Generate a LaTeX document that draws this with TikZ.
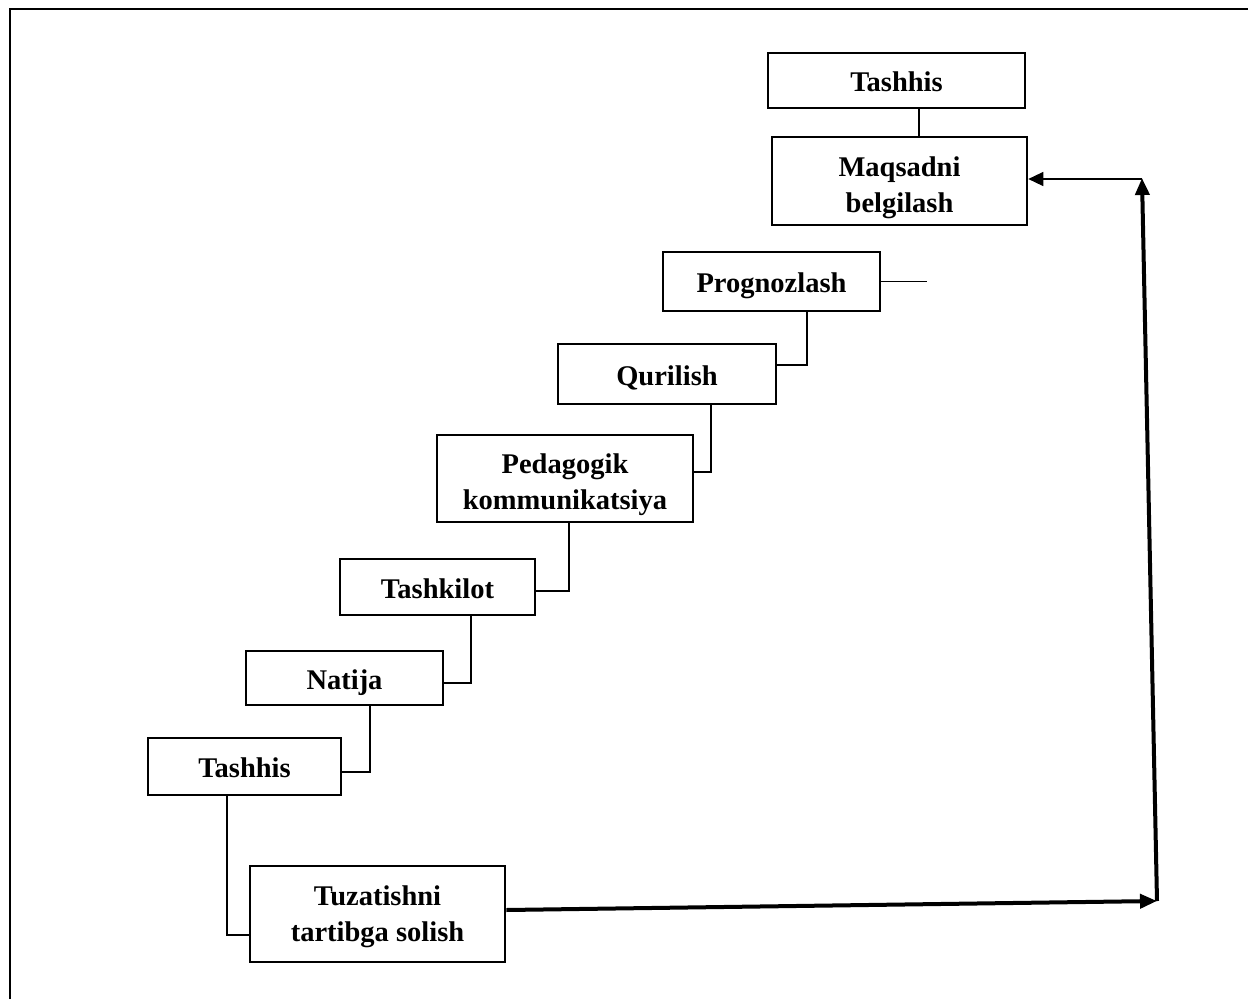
\documentclass[tikz,border=0pt]{standalone}
\usepackage{fontspec}
\setmainfont{Liberation Serif}
\usetikzlibrary{arrows.meta}
\begin{document}
\begin{tikzpicture}[x=1pt,y=-1pt,
  box/.style={draw, line width=2.6pt, rectangle, inner sep=0pt,
    font=\fontsize{28.5}{35.5}\selectfont\bfseries, align=center,
    text height=22pt, text depth=0pt},
  conn/.style={line width=1.3pt},
  big/.style={line width=4pt, -{Triangle[length=17pt,width=14pt]}},
  thinarr/.style={line width=1.3pt, -{Triangle[length=15pt,width=14pt]}}]
\useasboundingbox (0,0) rectangle (1248,999);
\draw[line width=2.2pt] (10,999) -- (10,9) -- (1248,9);

\node[box, minimum width=257, minimum height=55] (tA) at (896.5,80.5) {Tashhis};
\node[box, minimum width=255, minimum height=88, text height=62pt] (maq) at (899.5,181) {Maqsadni\\belgilash};
\node[box, minimum width=217, minimum height=59] (prog) at (771.5,281.5) {Prognozlash};
\node[box, minimum width=218, minimum height=60] (qur) at (667,374) {Qurilish};
\node[box, minimum width=256, minimum height=87, text height=61pt] (ped) at (565,478.5) {Pedagogik\\kommunikatsiya};
\node[box, minimum width=195, minimum height=56] (tashk) at (437.5,587) {Tashkilot};
\node[box, minimum width=197, minimum height=54] (nat) at (344.5,678) {Natija};
\node[box, minimum width=193, minimum height=57] (tashB) at (244.5,766.5) {Tashhis};
\node[box, minimum width=255, minimum height=96, text height=54pt] (tuz) at (377.5,914) {Tuzatishni\\tartibga solish};

\coordinate (k0) at (919,0);
\draw[conn] (tA.south -| k0) -- (maq.north -| k0);

\coordinate (top) at (1142,179);
\coordinate (corner) at (1157,901);
\draw[thinarr] (top) -- (top -| maq.east);
\draw[big] ([yshift=4pt]tuz.east) -- (corner);
\draw[big] (corner) -- ([yshift=1pt]top);

\draw[conn] (prog.east) -- ++(46,0);

\coordinate (c1) at (807,365);
\draw[conn] (prog.south -| c1) -- (c1) -- (c1 -| qur.east);
\coordinate (c2) at (711,472);
\draw[conn] (qur.south -| c2) -- (c2) -- (c2 -| ped.east);
\coordinate (c3) at (569,591);
\draw[conn] (ped.south -| c3) -- (c3) -- (c3 -| tashk.east);
\coordinate (c4) at (471,683);
\draw[conn] (tashk.south -| c4) -- (c4) -- (c4 -| nat.east);
\coordinate (c5) at (370,772);
\draw[conn] (nat.south -| c5) -- (c5) -- (c5 -| tashB.east);
\coordinate (c6) at (227,935);
\draw[conn] (tashB.south -| c6) -- (c6) -- (c6 -| tuz.west);
\end{tikzpicture}
\end{document}
